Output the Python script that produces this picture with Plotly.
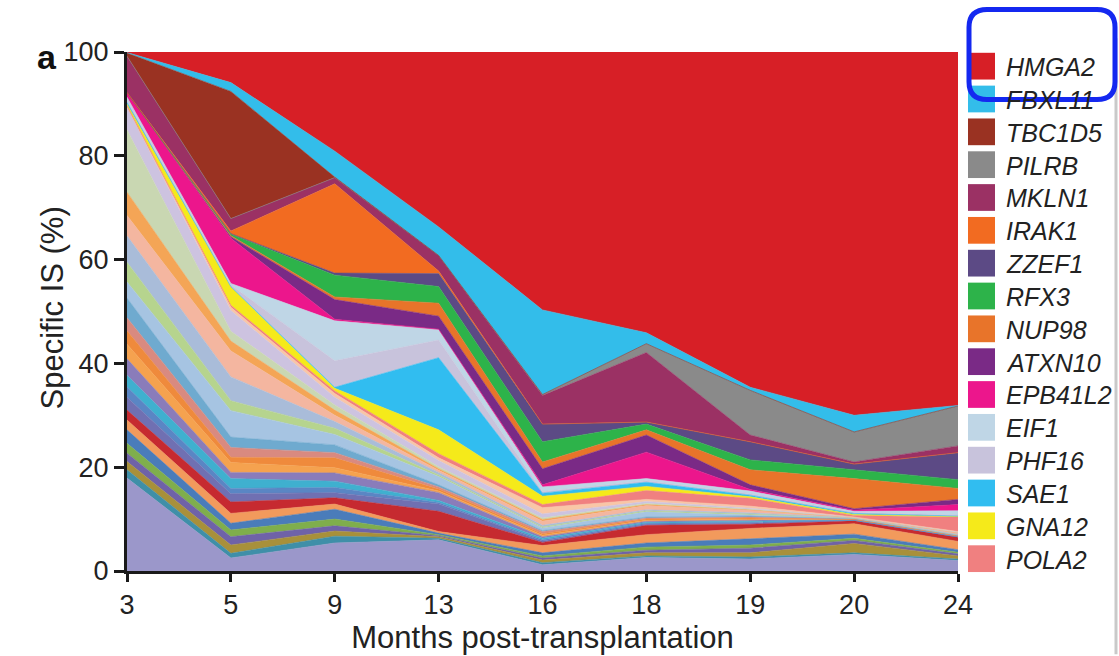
import plotly.graph_objects as go

# Sampling times (months post-transplantation), evenly spaced on a categorical axis
months = ["3", "5", "9", "13", "16", "18", "19", "20", "24"]

# Named insertion-site clones, % of all specific IS at each time point
HMGA2 = [0.1, 5.9, 19.1, 33.7, 49.7, 54.1, 64.6, 70.0, 68.1]
FBXL11 = [0.1, 1.7, 5.0, 5.5, 16.3, 2.1, 0.6, 3.2, 0.1]
TBC1D5 = [0.6, 24.5, 0.1, 0.0, 0.0, 0.0, 0.0, 0.0, 0.0]
PILRB = [0.0, 0.0, 0.0, 0.0, 0.2, 1.7, 8.6, 5.8, 7.7]
MKLN1 = [7.0, 2.4, 1.2, 3.0, 5.5, 13.4, 1.3, 0.4, 1.3]
IRAK1 = [0.0, 0.5, 17.2, 0.5, 0.0, 0.0, 0.0, 0.0, 0.0]
ZZEF1 = [0.0, 0.1, 0.4, 2.5, 3.4, 0.4, 3.5, 1.1, 5.2]
RFX3 = [0.0, 0.3, 4.2, 3.2, 3.9, 1.1, 1.9, 1.7, 1.7]
NUP98 = [0.0, 0.2, 0.5, 2.5, 1.3, 1.0, 2.9, 5.8, 2.1]
ATXN10 = [0.0, 0.3, 3.8, 2.5, 3.1, 3.3, 0.9, 0.3, 1.0]
EPB41L2 = [0.9, 8.7, 0.3, 0.1, 0.4, 5.1, 0.3, 0.2, 1.2]
EIF1 = [0.6, 0.3, 7.7, 2.0, 0.9, 0.4, 0.5, 0.2, 0.8]
PHF16 = [0.4, 0.3, 5.1, 3.4, 0.3, 0.3, 0.3, 0.2, 0.2]
SAE1 = [0.3, 0.1, 0.2, 13.9, 0.6, 0.8, 0.3, 0.2, 0.1]
GNA12 = [0.3, 3.5, 0.5, 4.6, 1.6, 0.8, 0.3, 0.2, 0.1]
POLA2 = [0.3, 0.4, 0.5, 0.8, 0.6, 1.7, 1.5, 0.3, 2.8]

# Legend order (top of the stack first) and colours
gene_names = ["HMGA2", "FBXL11", "TBC1D5", "PILRB", "MKLN1", "IRAK1", "ZZEF1", "RFX3",
              "NUP98", "ATXN10", "EPB41L2", "EIF1", "PHF16", "SAE1", "GNA12", "POLA2"]
gene_values = [HMGA2, FBXL11, TBC1D5, PILRB, MKLN1, IRAK1, ZZEF1, RFX3,
               NUP98, ATXN10, EPB41L2, EIF1, PHF16, SAE1, GNA12, POLA2]
gene_colors = ["#d71f26", "#33bdea", "#9a3222", "#8a8a8a", "#9b3164", "#f26b21", "#5c4a85", "#2db34a",
               "#e8742a", "#7a2a86", "#ec168c", "#bfd6e6", "#c8c3dc", "#31bdf0", "#f5ea1a", "#f08080"]

# Remaining minor clones, bottom of the stack first
minor_clones = [
    [17.9, 2.5, 5.4, 6.0, 1.2, 2.6, 2.3, 3.2, 2.0],
    [1.6, 0.9, 1.3, 0.3, 0.4, 0.3, 0.4, 0.3, 0.3],
    [1.6, 1.6, 1.0, 0.3, 0.5, 0.6, 0.8, 1.8, 0.6],
    [1.6, 1.6, 1.0, 0.2, 0.4, 0.5, 0.9, 0.6, 0.4],
    [1.9, 1.3, 1.3, 0.2, 0.4, 0.6, 0.6, 0.4, 0.3],
    [2.6, 1.3, 1.9, 0.3, 0.6, 0.8, 1.2, 0.8, 0.5],
    [1.9, 1.9, 1.0, 0.3, 1.4, 1.6, 2.0, 2.0, 1.6],
    [1.9, 2.2, 1.2, 3.9, 0.6, 1.8, 0.8, 0.6, 0.8],
    [2.5, 1.6, 1.0, 1.4, 0.3, 0.2, 0.2, 0.05, 0.05],
    [2.0, 1.0, 1.0, 0.3, 0.2, 0.2, 0.2, 0.05, 0.05],
    [2.2, 1.9, 1.2, 0.4, 0.3, 0.2, 0.2, 0.05, 0.05],
    [3.2, 1.2, 1.6, 1.5, 0.3, 0.2, 0.2, 0.05, 0.05],
    [2.8, 1.9, 1.0, 0.3, 0.3, 0.2, 0.2, 0.05, 0.05],
    [2.6, 1.0, 1.9, 0.4, 0.3, 0.2, 0.2, 0.05, 0.05],
    [2.5, 1.9, 1.0, 0.4, 0.4, 0.2, 0.2, 0.05, 0.05],
    [3.8, 2.0, 1.5, 0.4, 0.2, 0.2, 0.2, 0.05, 0.05],
    [3.1, 5.1, 2.0, 1.6, 0.5, 1.0, 0.2, 0.05, 0.05],
    [3.8, 1.9, 1.2, 0.3, 0.2, 0.2, 0.2, 0.05, 0.05],
    [5.1, 4.6, 1.3, 0.5, 0.3, 0.2, 0.2, 0.05, 0.05],
    [3.9, 5.0, 1.2, 0.4, 0.8, 0.8, 0.5, 0.1, 0.3],
    [4.5, 1.9, 1.0, 0.3, 0.3, 0.2, 0.1, 0.0, 0.05],
    [12.0, 1.9, 1.0, 0.4, 0.3, 0.2, 0.1, 0.0, 0.05],
    [4.4, 4.0, 1.5, 1.2, 0.8, 0.4, 0.2, 0.0, 0.05],
    [0.0, 0.6, 0.7, 0.5, 1.2, 0.4, 0.4, 0.05, 0.1],
]
minor_colors = ["#9b97ca", "#3f8fa8", "#a8903a", "#6f62a8", "#7fae4c", "#4a7cba", "#f29a5c", "#c62a30",
                "#7070b2", "#5a86c4", "#3fb0cf", "#8a7cba", "#f5a24f", "#ef8a3c", "#d98a80", "#6faacf",
                "#a6c4e2", "#b6d48e", "#a9bcd9", "#f4b6a0", "#f4a556", "#c9d7b2", "#cdc3e0", "#f9c6a6"]

FONT = "Liberation Sans, Arial, Helvetica, sans-serif"
W, H = 1119, 656
L, R, T, B = 127, 958, 52, 576

fig = go.Figure()


def add_area(vals, color, name):
    fig.add_trace(go.Scatter(
        x=months, y=vals, name=name, mode="lines", stackgroup="is",
        line=dict(width=0.6, color=color), fillcolor=color, showlegend=False,
    ))


for i, (vals, col) in enumerate(zip(minor_clones, minor_colors)):
    add_area(vals, col, f"clone {i + 1}")
for name, vals, col in reversed(list(zip(gene_names, gene_values, gene_colors))):
    add_area(vals, col, name)


def px(x):
    return (x - L) / (R - L)


def py(y):
    return (B - y) / (B - T)


shapes = []
annotations = []

# Legend: square swatches with italic gene names
row0, pitch = 66.3, 33.15
for k, (name, col) in enumerate(zip(gene_names, gene_colors)):
    cy = row0 + k * pitch
    shapes.append(dict(type="rect", xref="paper", yref="paper",
                       x0=px(968), x1=px(995), y0=py(cy - 13.5), y1=py(cy + 13.5),
                       fillcolor=col, line=dict(width=0)))
    annotations.append(dict(xref="paper", yref="paper", x=px(1004), y=py(cy + 1),
                            xanchor="left", yanchor="middle", showarrow=False,
                            text=f"<i>{name}</i>", font=dict(family=FONT, size=25, color="#222")))

# Light frame line at the right of the legend
shapes.append(dict(type="line", xref="paper", yref="paper",
                   x0=px(1116), x1=px(1116), y0=py(38), y1=py(660),
                   line=dict(color="#c9c9c9", width=3)))

# Highlight box around the top legend entry
bx0, by0, bx1, by1, rr = 969, 9, 1115, 100, 18
pts = [
    ("M", bx0 + rr, by0), ("L", bx1 - rr, by0), ("Q", bx1, by0, bx1, by0 + rr),
    ("L", bx1, by1 - rr), ("Q", bx1, by1, bx1 - rr, by1), ("L", bx0 + rr, by1),
    ("Q", bx0, by1, bx0, by1 - rr), ("L", bx0, by0 + rr), ("Q", bx0, by0, bx0 + rr, by0),
]
path = ""
for p in pts:
    if p[0] == "Q":
        path += f"Q {px(p[1]):.5f},{py(p[2]):.5f} {px(p[3]):.5f},{py(p[4]):.5f} "
    else:
        path += f"{p[0]} {px(p[1]):.5f},{py(p[2]):.5f} "
path += "Z"
shapes.append(dict(type="path", xref="paper", yref="paper", path=path,
                   line=dict(color="#1428f0", width=5), fillcolor="rgba(0,0,0,0)"))

# Panel letter
annotations.append(dict(xref="paper", yref="paper", x=px(35), y=py(57),
                        xanchor="left", yanchor="middle", showarrow=False,
                        text="<b>a</b>", font=dict(family=FONT, size=34, color="#111")))

# Y-axis title
annotations.append(dict(xref="paper", yref="paper", x=px(53), y=py(311),
                        xanchor="center", yanchor="middle", showarrow=False, textangle=-90,
                        text="Specific IS (%)", font=dict(family=FONT, size=31, color="#222")))

fig.update_layout(
    width=W, height=H,
    margin=dict(l=L, r=W - R, t=T, b=H - B, pad=0),
    paper_bgcolor="white", plot_bgcolor="white",
    font=dict(family=FONT, size=27, color="#222"),
    shapes=shapes, annotations=annotations,
    xaxis=dict(type="category", range=[0, 8], showgrid=False, zeroline=False,
               showline=True, linecolor="#1a1a1a", linewidth=3,
               ticks="outside", ticklen=8, tickwidth=3, tickcolor="#1a1a1a",
               tickfont=dict(size=27), title=dict(text="Months post-transplantation",
                                                  font=dict(size=31), standoff=2)),
    yaxis=dict(range=[0, 100], tickvals=[0, 20, 40, 60, 80, 100], showgrid=False, zeroline=False,
               showline=True, linecolor="#1a1a1a", linewidth=3,
               ticks="outside", ticklen=10, tickwidth=3, tickcolor="#1a1a1a",
               tickfont=dict(size=27)),
)

fig.write_html("out.html")
